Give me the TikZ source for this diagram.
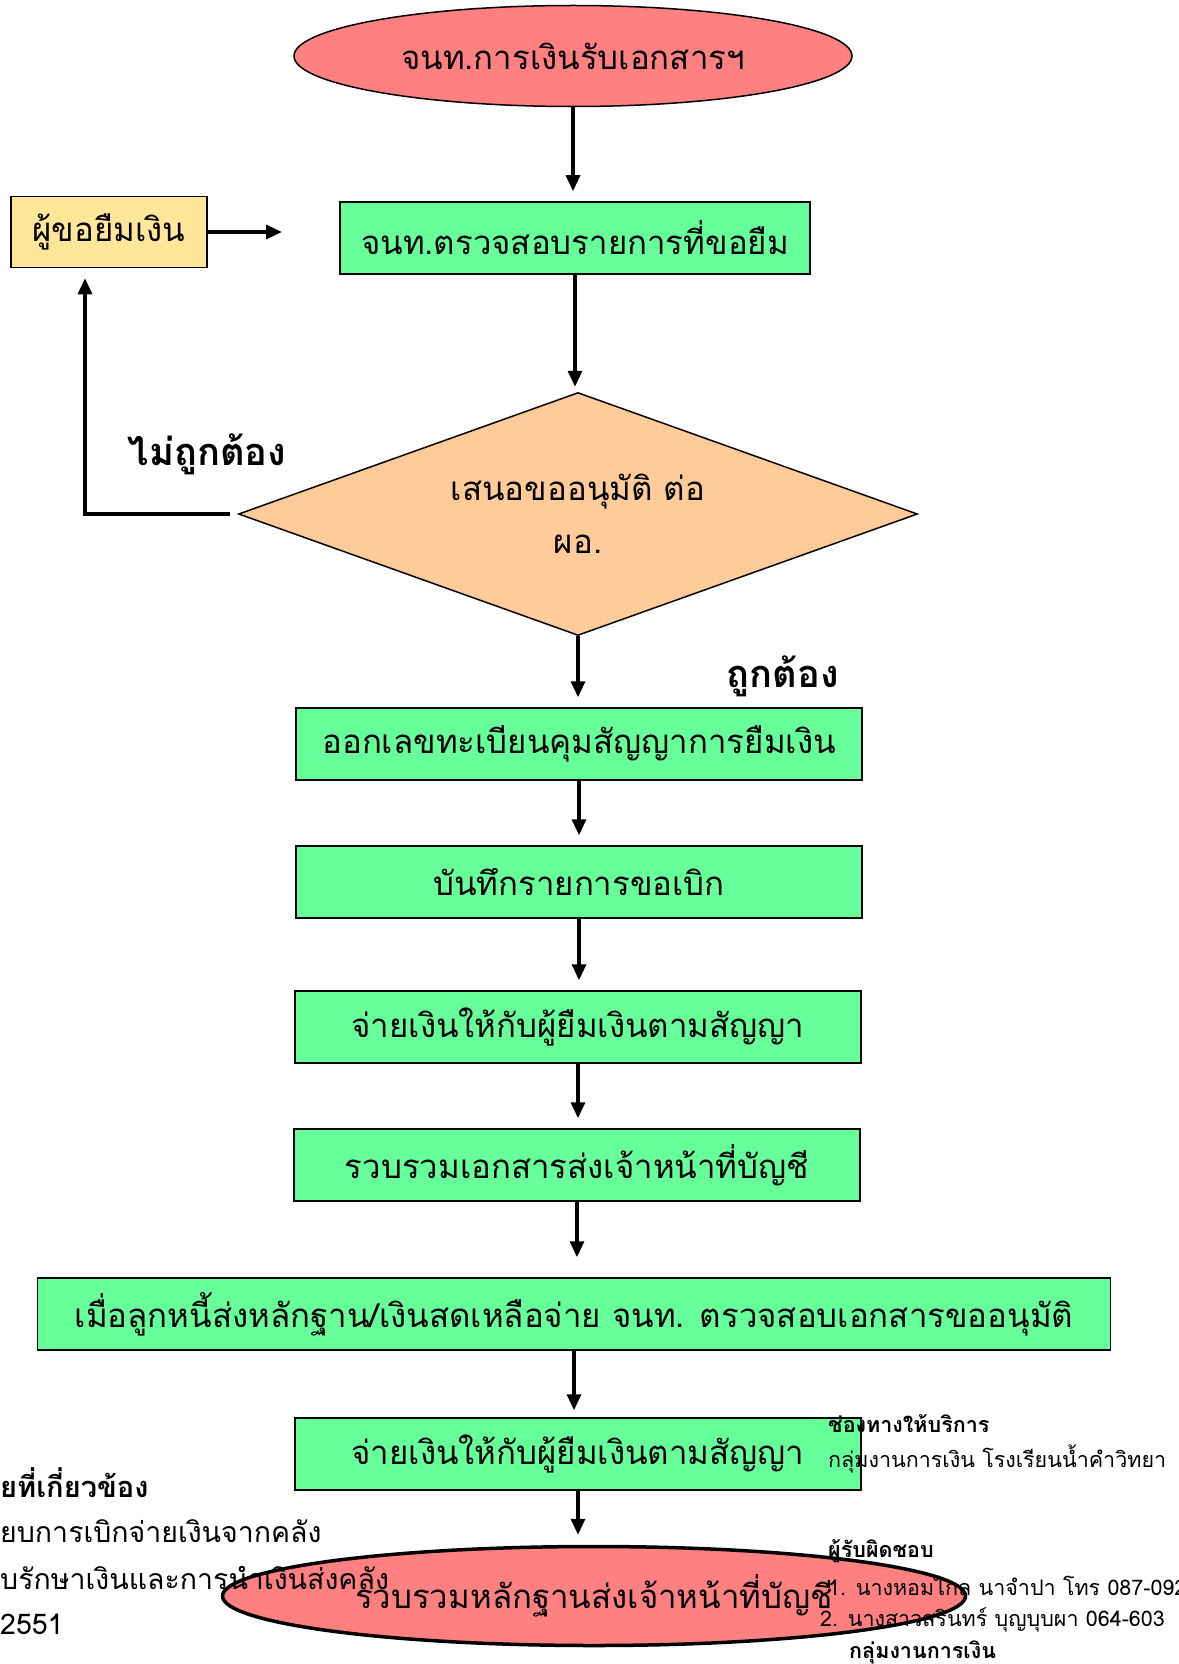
\documentclass[tikz,border=0pt]{standalone}
\usepackage{fontspec}
\setmainfont[Script=Thai]{Loma}
\usetikzlibrary{shapes.geometric,arrows.meta}
\definecolor{ovalred}{RGB}{255,128,128}
\definecolor{boxgreen}{RGB}{102,255,153}
\definecolor{askyellow}{RGB}{255,230,153}
\definecolor{decpeach}{RGB}{255,204,153}
\tikzset{
  oval/.style={ellipse, draw, fill=ovalred, line width=1.5pt, inner sep=0pt, font=\fontsize{33}{38}\selectfont},
  procbox/.style={rectangle, draw, fill=boxgreen, line width=1.5pt, minimum width=566pt, minimum height=72pt, inner sep=0pt, font=\fontsize{33}{38}\selectfont},
  askbox/.style={rectangle, draw, fill=askyellow, line width=1.5pt, minimum width=196pt, minimum height=71pt, inner sep=0pt, font=\fontsize{33}{38}\selectfont},
  decision/.style={diamond, draw, fill=decpeach, line width=1.5pt, aspect=2.8, minimum width=679pt, minimum height=243pt, inner sep=0pt, align=center, font=\fontsize{33}{53}\selectfont},
  arr/.style={line width=3.2pt, -{Triangle[length=16pt,width=14pt]}, shorten >=10pt},
  tag/.style={font=\bfseries\fontsize{38}{44}\selectfont},
  sidehead/.style={anchor=west, inner sep=0pt, font=\bfseries\fontsize{21.5}{25}\selectfont},
  sidetext/.style={anchor=west, inner sep=0pt, font=\fontsize{21.5}{25}\selectfont},
  lefttext/.style={anchor=west, inner sep=0pt, font=\fontsize{28.5}{33}\selectfont}
}
\begin{document}
\begin{tikzpicture}[x=1pt,y=-1pt]
  \useasboundingbox (0,0) rectangle (1178,1664);
  %debut
  \node[oval, minimum width=558pt, minimum height=101pt] (start) at (573,56) {จนท.การเงินรับเอกสารฯ};
  %etapes
  \node[procbox, minimum width=470pt] (check) at (575,238) {จนท.ตรวจสอบรายการที่ขอยืม};
  \node[askbox] (ask) at (109,232) {ผู้ขอยืมเงิน};
  \node[decision] (dec) at (578,514) {เสนอขออนุมัติ ต่อ\\ผอ.};
  \node[procbox] (regist) at (579,744) {ออกเลขทะเบียนคุมสัญญาการยืมเงิน};
  \node[procbox] (record) at (579,882) {บันทึกรายการขอเบิก};
  \node[procbox] (pay) at (578,1027) {จ่ายเงินให้กับผู้ยืมเงินตามสัญญา};
  \node[procbox] (collect) at (577,1165) {รวบรวมเอกสารส่งเจ้าหน้าที่บัญชี};
  \node[procbox, minimum width=1073pt] (verify) at (574,1314) {เมื่อลูกหนี้ส่งหลักฐาน/เงินสดเหลือจ่าย จนท. ตรวจสอบเอกสารขออนุมัติ};
  \node[procbox] (paytwo) at (578,1454) {จ่ายเงินให้กับผู้ยืมเงินตามสัญญา};
  %fin
  \node[oval, line width=3.5pt, minimum width=743pt, minimum height=99pt] (finish) at (594,1596) {};
  %libelles
  \node[tag] (wrong) at (207,454) {ไม่ถูกต้อง};
  \node[tag] (right) at (783,676) {ถูกต้อง};
  %fleches
  \coordinate (askend) at (292,228);
  \coordinate (turn) at (85,514);
  \draw[arr] (start.south) -- (start.south |- check.north);
  \draw[arr] (ask.east) -- (ask.east -| askend);
  \draw[arr, shorten >=5pt] (check.south) -- (check.south |- dec.north);
  \draw[arr] ([xshift=-8pt]dec.west) -- (turn) -- (turn |- ask.south);
  \draw[arr] (dec.south) -- (dec.south |- regist.north);
  \draw[arr] (regist.south) -- (regist.south |- record.north);
  \draw[arr] (record.south) -- (record.south |- pay.north);
  \draw[arr] (pay.south) -- (pay.south |- collect.north);
  \draw[arr, shorten >=20pt] (collect.south) -- (collect.south |- verify.north);
  \draw[arr, shorten >=7pt] (verify.south) -- (verify.south |- paytwo.north);
  \draw[arr] (paytwo.south) -- (paytwo.south |- finish.north);
  %texte a gauche
  \node[lefttext, font=\bfseries\fontsize{29}{33}\selectfont] (lawhead) at (0,1483) {ยที่เกี่ยวข้อง};
  \node[lefttext] (lawone) at (0,1531) {ยบการเบิกจ่ายเงินจากคลัง};
  \node[lefttext] (lawtwo) at (0,1578) {บรักษาเงินและการนำเงินส่งคลัง};
  \node[lefttext] (lawyear) at (0,1624) {2551};
  %texte a droite
  \node[sidehead] (chanhead) at (828,1424) {ช่องทางให้บริการ};
  \node[sidetext] (chan) at (828,1459) {กลุ่มงานการเงิน โรงเรียนน้ำคำวิทยา};
  \node[sidehead] (staffhead) at (828,1551) {ผู้รับผิดชอบ};
  \node[sidetext] (staffone) at (828,1586) {1. นางหอมไกล นาจำปา  โทร 087-092};
  \node[sidetext] (stafftwo) at (820,1620) {2. นางสาวสรินทร์  บุญบุบผา 064-603};
  \node[sidehead] (group) at (849,1652) {กลุ่มงานการเงิน};
  \node[font=\fontsize{33}{38}\selectfont] (finishtext) at (finish) {รวบรวมหลักฐานส่งเจ้าหน้าที่บัญชี};
\end{tikzpicture}
\end{document}
